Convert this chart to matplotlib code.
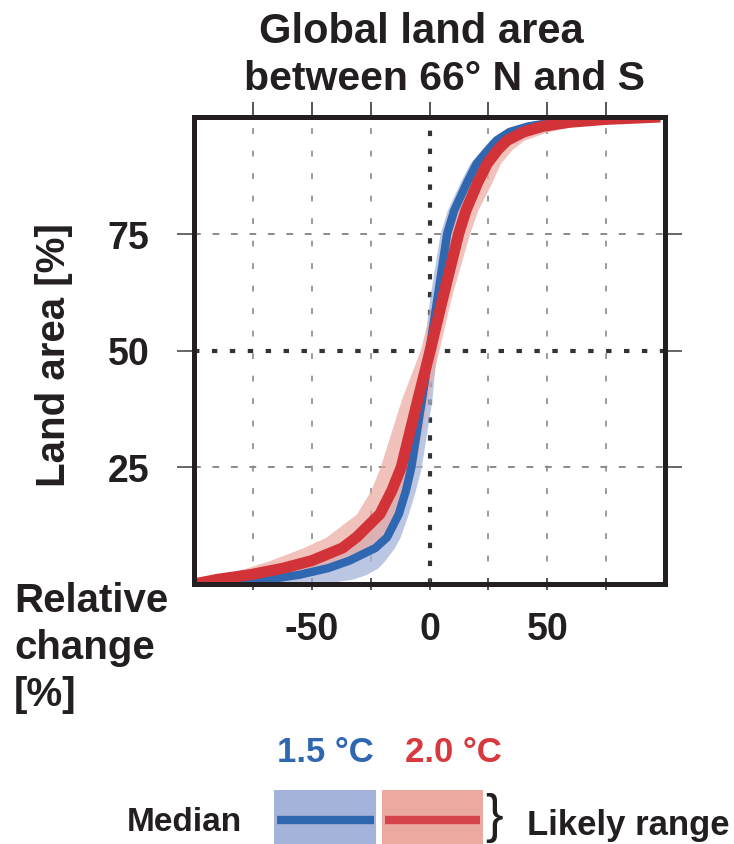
import matplotlib
matplotlib.use("Agg")
import matplotlib.pyplot as plt
from matplotlib.patches import Rectangle

plt.rcParams['font.family'] = ['Liberation Sans', 'DejaVu Sans']

# land area levels [%] and the relative change [%] read at each level
land = [0, 0.5, 1, 2, 3.4, 5, 7.7, 10, 15, 20, 25, 39.4, 50,
        60.9, 75, 80, 86, 90, 93, 95, 96.8, 98, 98.9, 99.5, 100]

med_20 = [-100, -95, -90, -76, -62, -50, -37, -31, -21, -16, -12, -5, 0.3,
          5.5, 12.4, 15.5, 20.5, 24.5, 29, 33, 40, 48, 60, 75, 98]
lo_20 = [-100, -99, -97, -88, -78, -68, -54, -44, -31, -25, -21, -12, -4,
         1.5, 7.5, 10, 15, 19, 23.5, 27, 33, 40, 50, 62, 98]
hi_20 = [-100, -88, -78, -62, -50, -40, -27, -21, -13, -9, -6, -1, 4,
         9, 17, 20.5, 26.5, 30, 35, 40, 50, 60, 72, 82, 98]

med_15 = [-100, -80, -68, -55, -43, -34, -23, -18, -13, -10, -7.7, -3.2, 0,
          3.3, 7.5, 10.5, 16, 20, 25, 28.5, 34, 42, 53, 66, 98]
lo_15 = [-100, -92, -84, -73, -62, -52, -40, -32, -22, -16, -12, -6, -2.5,
         0, 4.5, 7.5, 13, 17, 22, 25.5, 30.5, 38, 48, 60, 98]
hi_15 = [-100, -40, -33, -27, -22, -19, -15, -12.5, -9, -6, -3.5, 1, 3,
         6, 11, 14.5, 19.5, 24, 28, 32, 38, 46, 58, 70, 98]

xticks = [-75, -50, -25, 0, 25, 50, 75]
xlabels = ['', '-50', '', '0', '', '50', '']
yticks = [25, 50, 75]

blue, blue_lt = '#2f67b0', '#a4b3da'
red, red_lt = '#d23338', '#eca99f'
dark = '#231f20'

W, H = 734, 845
fig = plt.figure(figsize=(W / 100, H / 100), dpi=100)
ax = fig.add_axes([194 / W, 1 - 585 / H, (665 - 194) / W, (585 - 118) / H])

# grid
for x in xticks:
    if x == 0:
        ax.axvline(0, color='#333333', lw=3.0, dashes=(1.3, 3.0), zorder=1)
    else:
        ax.axvline(x, color='#8a8a8a', lw=1.2, dashes=(3.5, 10), zorder=1)
for y in yticks:
    if y == 50:
        ax.axhline(50, color='#333333', lw=3.0, dashes=(1.3, 3.0), zorder=1)
    else:
        ax.axhline(y, color='#8a8a8a', lw=1.4, dashes=(3.5, 6), zorder=1)

# likely ranges and medians
ax.fill_betweenx(land, lo_15, hi_15, color=blue_lt, alpha=0.75, lw=0, zorder=2)
ax.fill_betweenx(land, lo_20, hi_20, color=red_lt, alpha=0.7, lw=0, zorder=3)
ax.plot(med_15, land, color=blue, lw=6, solid_capstyle='butt', zorder=4)
ax.plot(med_20, land, color=red, lw=8, solid_capstyle='butt', zorder=5)

ax.set_xlim(-100, 100)
ax.set_ylim(0, 100)
for s in ax.spines.values():
    s.set_linewidth(3.6)
    s.set_color(dark)
    s.set_zorder(6)

ax.set_xticks(xticks, labels=xlabels)
ax.set_yticks(yticks)
ax.tick_params(axis='x', direction='inout', length=9, width=1.4, color='#555555',
               pad=15, labelsize=27)
ax.tick_params(axis='y', direction='out', length=12, width=1.4, color='#666666',
               pad=20, labelsize=27, right=True)
for lab in ax.get_xticklabels() + ax.get_yticklabels():
    lab.set_fontweight('bold')
    lab.set_color(dark)

top = ax.secondary_xaxis('top')
top.set_xticks(xticks)
top.tick_params(direction='out', length=11, width=1.4, color='#555555', labeltop=False)
top.spines['top'].set_visible(False)

# labels
fig.text(54 / W, 1 - 355 / H, 'Land area [%]', rotation=90, ha='center', va='center',
         fontsize=29, fontweight='bold', color=dark)
fig.text(14 / W, 1 - 582 / H, 'Relative\nchange\n[%]', ha='left', va='top',
         fontsize=29, fontweight='bold', color=dark, linespacing=1.3)
fig.text(421 / W, 1 - 43 / H, 'Global land area', ha='center', va='baseline',
         fontsize=30, fontweight='bold', color=dark)
fig.text(444 / W, 1 - 90 / H, 'between 66° N and S', ha='center', va='baseline',
         fontsize=29.5, fontweight='bold', color=dark)

# legend drawn in pixel space
lg = fig.add_axes([0, 0, 1, 1])
lg.set_xlim(0, W)
lg.set_ylim(H, 0)
lg.axis('off')
lg.add_patch(Rectangle((274, 791), 102, 56, color=blue_lt, lw=0))
lg.add_patch(Rectangle((382, 791), 101, 56, color=red_lt, lw=0))
lg.plot([277, 374], [821, 821], color=blue, lw=6, solid_capstyle='butt')
lg.plot([385, 480], [821, 821], color='#d4434a', lw=6, solid_capstyle='butt')
lg.text(325, 753, '1.5 °C', ha='center', va='center', fontsize=25,
        fontweight='bold', color=blue)
lg.text(453, 753, '2.0 °C', ha='center', va='center', fontsize=25,
        fontweight='bold', color='#d8393f')
lg.text(184, 823, 'Median', ha='center', va='center', fontsize=24,
        fontweight='bold', color=dark)
lg.text(494, 818, '}', ha='center', va='center', fontsize=38, color=dark)
lg.text(527, 826, 'Likely range', ha='left', va='center', fontsize=25,
        fontweight='bold', color=dark)

fig.savefig('out.png', dpi=100)
